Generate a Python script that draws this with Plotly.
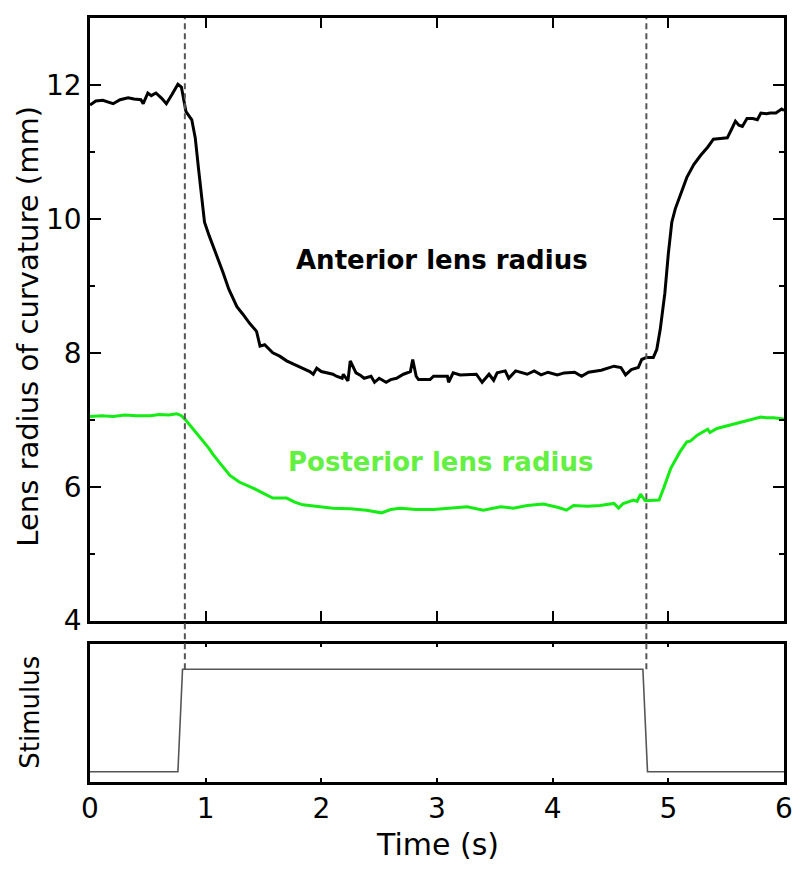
import plotly.graph_objects as go

# ---------------- data ----------------
ant_t = [0.00, 0.05, 0.11, 0.16, 0.20, 0.26, 0.33, 0.38, 0.44, 0.46, 0.50, 0.53, 0.57, 0.62, 0.66, 0.71,
         0.76, 0.79, 0.83, 0.88, 0.91, 0.94, 0.97, 0.99, 1.03, 1.09, 1.15, 1.20, 1.27, 1.32, 1.38, 1.44,
         1.47, 1.51, 1.58, 1.64, 1.70, 1.76, 1.84, 1.90, 1.93, 1.96, 2.00, 2.05, 2.10, 2.13, 2.18, 2.19,
         2.23, 2.25, 2.30, 2.34, 2.37, 2.43, 2.46, 2.50, 2.56, 2.60, 2.65, 2.71, 2.74, 2.77, 2.79, 2.82,
         2.84, 2.94, 2.97, 3.09, 3.10, 3.14, 3.20, 3.28, 3.34, 3.39, 3.45, 3.49, 3.52, 3.59, 3.62, 3.68,
         3.78, 3.84, 3.90, 3.96, 4.04, 4.10, 4.19, 4.25, 4.31, 4.42, 4.50, 4.53, 4.59, 4.63, 4.68, 4.74,
         4.77, 4.81, 4.87, 4.90, 4.93, 4.97, 5.00, 5.03, 5.06, 5.10, 5.16, 5.22, 5.28, 5.34, 5.39, 5.45,
         5.51, 5.55, 5.58, 5.61, 5.64, 5.68, 5.73, 5.77, 5.80, 5.85, 5.88, 5.93, 5.98, 6.00]
ant_r = [11.70, 11.76, 11.77, 11.74, 11.72, 11.78, 11.81, 11.79, 11.78, 11.72, 11.88, 11.84, 11.88, 11.80, 11.72, 11.86,
         12.01, 11.97, 11.60, 11.48, 11.21, 10.72, 10.27, 9.95, 9.75, 9.48, 9.20, 8.95, 8.69, 8.58, 8.44, 8.32,
         8.10, 8.12, 8.00, 7.95, 7.88, 7.83, 7.77, 7.72, 7.68, 7.77, 7.72, 7.70, 7.68, 7.65, 7.62, 7.68,
         7.58, 7.88, 7.70, 7.66, 7.62, 7.65, 7.56, 7.62, 7.56, 7.60, 7.62, 7.68, 7.70, 7.72, 7.90, 7.65,
         7.60, 7.60, 7.65, 7.65, 7.56, 7.70, 7.67, 7.67, 7.68, 7.56, 7.68, 7.59, 7.70, 7.73, 7.62, 7.73,
         7.68, 7.73, 7.67, 7.71, 7.67, 7.70, 7.71, 7.65, 7.71, 7.74, 7.78, 7.80, 7.78, 7.67, 7.75, 7.78,
         7.90, 7.93, 7.93, 8.05, 8.35, 8.89, 9.48, 9.95, 10.15, 10.35, 10.62, 10.81, 10.95, 11.07, 11.19, 11.20,
         11.21, 11.35, 11.46, 11.40, 11.38, 11.50, 11.50, 11.48, 11.58, 11.57, 11.58, 11.58, 11.64, 11.62]

post_t = [0.00, 0.10, 0.20, 0.30, 0.40, 0.52, 0.60, 0.68, 0.75, 0.79, 0.82, 0.86, 0.89, 0.95, 1.03, 1.06,
          1.12, 1.21, 1.29, 1.35, 1.41, 1.50, 1.58, 1.70, 1.77, 1.84, 1.95, 2.10, 2.25, 2.39, 2.52, 2.60,
          2.68, 2.82, 2.97, 3.11, 3.26, 3.40, 3.55, 3.66, 3.78, 3.92, 4.05, 4.12, 4.18, 4.30, 4.41, 4.53,
          4.57, 4.61, 4.70, 4.73, 4.76, 4.80, 4.86, 4.92, 4.96, 5.02, 5.10, 5.16, 5.19, 5.25, 5.34, 5.36,
          5.42, 5.51, 5.60, 5.68, 5.74, 5.80, 5.85, 5.91, 6.00]
post_r = [7.05, 7.06, 7.05, 7.07, 7.06, 7.06, 7.08, 7.07, 7.09, 7.06, 7.01, 6.93, 6.86, 6.74, 6.57, 6.49,
          6.36, 6.17, 6.07, 6.03, 5.98, 5.90, 5.83, 5.83, 5.77, 5.73, 5.71, 5.68, 5.67, 5.65, 5.61, 5.66,
          5.68, 5.66, 5.66, 5.68, 5.70, 5.65, 5.70, 5.68, 5.72, 5.74, 5.69, 5.65, 5.72, 5.71, 5.72, 5.75,
          5.68, 5.75, 5.80, 5.78, 5.89, 5.79, 5.80, 5.80, 5.98, 6.27, 6.52, 6.67, 6.68, 6.77, 6.86, 6.81,
          6.87, 6.91, 6.95, 6.99, 7.01, 7.04, 7.03, 7.03, 7.01]

stim_t = [0.0, 0.76, 0.80, 4.78, 4.82, 6.0]
stim_v = [0, 0, 1, 1, 0, 0]

stim_on = 0.82
stim_off = 4.81

x_ticks = [0, 1, 2, 3, 4, 5, 6]
y_ticks = [4, 6, 8, 10, 12]

# ---------------- figure ----------------
FONT = "DejaVu Sans"
top_dom = [0.2112, 1.0]
bot_dom = [0.0, 0.1812]
y2_range = [-0.1, 1.25]

fig = go.Figure()
fig.add_trace(go.Scatter(x=ant_t, y=ant_r, mode="lines", line=dict(color="black", width=3),
                         xaxis="x", yaxis="y", showlegend=False))
fig.add_trace(go.Scatter(x=post_t, y=post_r, mode="lines", line=dict(color="rgb(20,236,20)", width=3),
                         xaxis="x", yaxis="y", showlegend=False))
fig.add_trace(go.Scatter(x=stim_t, y=stim_v, mode="lines", line=dict(color="#555555", width=1.6),
                         xaxis="x2", yaxis="y2", showlegend=False))

# dashed markers from top frame down to stimulus high level
stim_high_paper = bot_dom[0] + (max(stim_v) - y2_range[0]) / (y2_range[1] - y2_range[0]) * (bot_dom[1] - bot_dom[0])
for xv in (stim_on, stim_off):
    fig.add_shape(type="line", xref="x", yref="paper", x0=xv, x1=xv, y0=stim_high_paper, y1=1.0,
                  line=dict(color="#555555", width=2, dash="6px,4px"), layer="above")

axis_common = dict(showline=True, linecolor="black", linewidth=2.5, mirror="ticks",
                   ticks="inside", tickcolor="black", tickwidth=2, showgrid=False, zeroline=False,
                   tickfont=dict(family=FONT, size=28, color="black"))

fig.update_layout(
    width=792, height=863,
    margin=dict(l=82, r=16, t=7, b=89),
    paper_bgcolor="white", plot_bgcolor="white",
    xaxis=dict(domain=[0, 1], range=[0, 6], tickvals=x_ticks, ticklen=10, showticklabels=False,
               anchor="y", **axis_common),
    yaxis=dict(domain=top_dom, range=[4, 13], tickvals=y_ticks, ticklen=11, anchor="x",
               minor=dict(dtick=1, tick0=4, ticklen=5, ticks="inside", tickcolor="black", tickwidth=2),
               **axis_common),
    xaxis2=dict(domain=[0, 1], range=[0, 6], tickvals=x_ticks, ticklen=4, anchor="y2",
                **axis_common),
    yaxis2=dict(domain=bot_dom, range=y2_range, showline=True, linecolor="black", linewidth=2.5,
                mirror=True, ticks="", showticklabels=False, showgrid=False, zeroline=False, anchor="x2"),
)

fig.add_annotation(text="Lens radius of curvature (mm)", xref="paper", yref="paper",
                   x=-0.0893, y=0.596, textangle=-90, showarrow=False, xanchor="center", yanchor="middle",
                   font=dict(family=FONT, size=29, color="black"))
fig.add_annotation(text="Stimulus", xref="paper", yref="paper",
                   x=-0.0865, y=0.092, textangle=-90, showarrow=False, xanchor="center", yanchor="middle",
                   font=dict(family=FONT, size=26, color="black"))
fig.add_annotation(text="Time (s)", xref="paper", yref="paper",
                   x=0.5, y=-0.082, showarrow=False, xanchor="center", yanchor="middle",
                   font=dict(family=FONT, size=30, color="black"))
fig.add_annotation(text="<b>Anterior lens radius</b>", xref="x", yref="y", x=3.04, y=9.38,
                   showarrow=False, xanchor="center", yanchor="middle",
                   font=dict(family=FONT, size=26, color="black"))
fig.add_annotation(text="<b>Posterior lens radius</b>", xref="x", yref="y", x=3.03, y=6.37,
                   showarrow=False, xanchor="center", yanchor="middle",
                   font=dict(family=FONT, size=26, color="rgb(100,240,66)"))

fig.write_html("out.html")
